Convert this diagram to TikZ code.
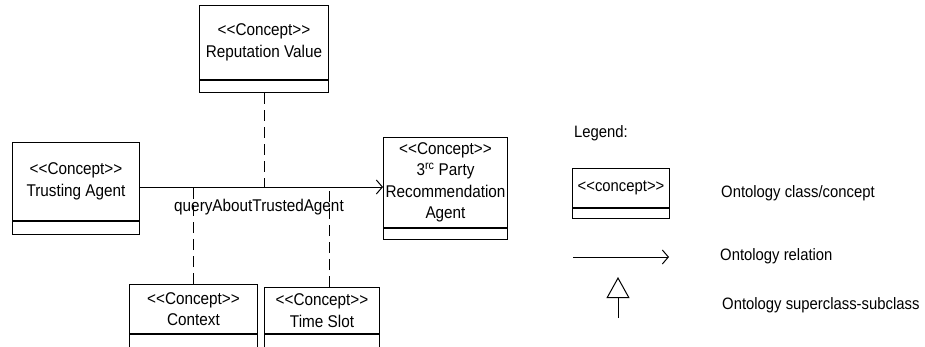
\documentclass[tikz,border=0pt]{standalone}
\usepackage{fontspec}
\setmainfont{Liberation Sans}
\newfontfamily\condfont{Liberation Sans}[FakeStretch=0.9]
\usetikzlibrary{arrows.meta,calc}
\newcommand\LLt{<\kern0pt<}
\newcommand\GGt{>\kern0pt>}
\begin{document}
\begin{tikzpicture}[x=1pt,y=-1pt,
  txt/.style={font=\condfont\fontsize{17}{21.5}\selectfont},
  lgt/.style={font=\condfont\fontsize{16.5}{20}\selectfont},
  comp/.style={draw,line width=1pt,inner sep=0pt,anchor=north west,align=center,txt},
  rel/.style={line width=1pt,-{Straight Barb[length=6pt,width=14pt]}},
  dep/.style={line width=1pt,dash pattern=on 11pt off 6pt}]
\useasboundingbox (0,0) rectangle (925,346);
\clip (0,0) rectangle (925,346);
% concept boxes
\node[comp,minimum width=129,minimum height=74] (rv) at (199,5) {\LLt Concept\GGt\\Reputation Value};
\node[comp,minimum width=129,minimum height=12] (rvb) at (rv.south west) {};
\node[comp,minimum width=127,minimum height=78] (ta) at (12,142) {\LLt Concept\GGt\\Trusting Agent};
\node[comp,minimum width=127,minimum height=13] (tab) at (ta.south west) {};
\node[comp,minimum width=124,minimum height=90] (rp) at (383,137) {\LLt Concept\GGt\\3\textsuperscript{rc} Party\\Recommendation\\Agent};
\node[comp,minimum width=124,minimum height=11] (rpb) at (rp.south west) {};
\node[comp,minimum width=128,minimum height=49] (cx) at (129,284) {\LLt Concept\GGt\\Context};
\node[comp,minimum width=128,minimum height=20] (cxb) at (cx.south west) {};
\node[comp,minimum width=115,minimum height=46] (ts) at (264,287) {\LLt Concept\GGt\\Time Slot};
\node[comp,minimum width=115,minimum height=20] (tsb) at (ts.south west) {};
% relation
\coordinate (relY) at (0,187);
\draw[rel] (ta.east |- relY) -- (rp.west |- relY);
\node[txt] (lbl) at (259,207) {queryAboutTrustedAgent};
% dependencies
\draw[dep] (rvb.south) -- (rvb.south |- relY);
\draw[dep] (cx.north) -- (cx.north |- relY);
\coordinate (tsd) at (329,187);
\draw[dep] (ts.north -| tsd) -- (tsd);
% legend
\node[lgt,anchor=west,inner sep=0pt] (lg) at (574,133) {Legend:};
\node[comp,lgt,minimum width=97,minimum height=39] (lc) at (572,168) {\LLt concept\GGt};
\node[comp,minimum width=97,minimum height=10] (lcb) at (lc.south west) {};
\node[lgt,anchor=west,inner sep=0pt] (t1) at (721,193) {Ontology class/concept};
\coordinate (la1) at (573,257);
\coordinate (la2) at (669,257);
\draw[rel] (la1) -- (la2);
\node[lgt,anchor=west,inner sep=0pt] (t2) at (720,256) {Ontology relation};
\coordinate (tb) at (618,318);
\coordinate (tt) at (618,277);
\draw[line width=1pt,-{Triangle[open,length=21pt,width=23pt]}] (tb) -- (tt);
\node[lgt,anchor=west,inner sep=0pt] (t3) at (722,305) {Ontology superclass-subclass};
\end{tikzpicture}
\end{document}
